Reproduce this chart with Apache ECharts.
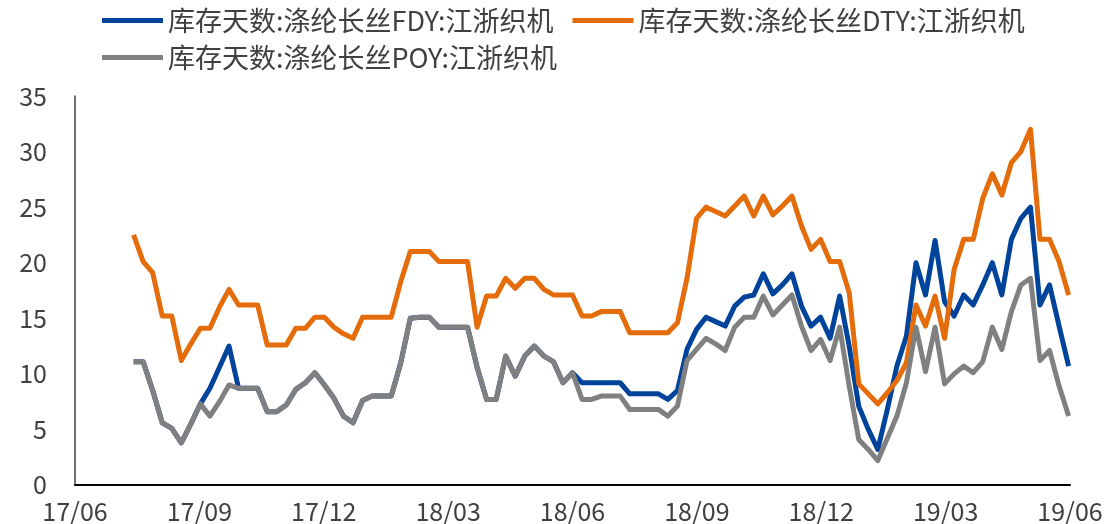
<!DOCTYPE html>
<html>
<head>
<meta charset="utf-8">
<script src="https://cdn.jsdelivr.net/npm/echarts@6/dist/echarts.min.js"></script>
<style>
  html, body { margin: 0; padding: 0; background: #fff; }
  #chart { width: 1112px; height: 524px; }
</style>
</head>
<body>
<div id="chart"></div>
<script>
// 库存天数 江浙织机 周度数据
var startDate = '2017-07-14';   // 第一周
var weekCount = 99;
var xTickLabels = ['17/06', '17/09', '17/12', '18/03', '18/06', '18/09', '18/12', '19/03', '19/06'];

var fdy = [11.1, 11.1, 8.5, 5.6, 5.1, 3.8, 5.5, 7.3, 8.7, 10.6,
           12.5, 8.7, 8.7, 8.7, 6.6, 6.6, 7.2, 8.6, 9.2, 10.1,
           9.0, 7.8, 6.2, 5.6, 7.6, 8.0, 8.0, 8.0, 11.0, 15.0,
           15.1, 15.1, 14.2, 14.2, 14.2, 14.2, 10.6, 7.7, 7.7, 11.6,
           9.8, 11.6, 12.5, 11.6, 11.1, 9.2, 10.1, 9.2, 9.2, 9.2,
           9.2, 9.2, 8.2, 8.2, 8.2, 8.2, 7.7, 8.5, 12.2, 14.0,
           15.1, 14.7, 14.3, 16.1, 16.9, 17.1, 19.0, 17.2, 18.0, 19.0,
           16.1, 14.3, 15.1, 13.2, 17.0, 12.5, 7.1, 5.0, 3.2, 6.8,
           10.7, 13.4, 20.0, 17.1, 22.0, 16.5, 15.2, 17.1, 16.2, 18.0,
           20.0, 17.1, 22.1, 24.0, 25.0, 16.2, 18.0, 14.3, 10.7];

var dty = [22.5, 20.1, 19.1, 15.2, 15.2, 11.2, 12.7, 14.1, 14.1, 16.0,
           17.6, 16.2, 16.2, 16.2, 12.6, 12.6, 12.6, 14.1, 14.1, 15.1,
           15.1, 14.2, 13.6, 13.2, 15.1, 15.1, 15.1, 15.1, 18.3, 21.0,
           21.0, 21.0, 20.1, 20.1, 20.1, 20.1, 14.2, 17.0, 17.0, 18.6,
           17.7, 18.6, 18.6, 17.6, 17.1, 17.1, 17.1, 15.2, 15.2, 15.6,
           15.6, 15.6, 13.7, 13.7, 13.7, 13.7, 13.7, 14.6, 18.6, 24.0,
           25.0, 24.6, 24.2, 25.1, 26.0, 24.2, 26.0, 24.3, 25.1, 26.0,
           23.3, 21.2, 22.1, 20.1, 20.1, 17.3, 9.1, 8.2, 7.3, 8.3,
           9.4, 11.0, 16.2, 14.3, 17.0, 13.2, 19.4, 22.1, 22.1, 25.8,
           28.0, 26.1, 29.0, 30.0, 32.0, 22.1, 22.1, 20.1, 17.1];

var poy = [11.1, 11.1, 8.5, 5.6, 5.1, 3.8, 5.5, 7.3, 6.2, 7.5,
           9.0, 8.7, 8.7, 8.7, 6.6, 6.6, 7.2, 8.6, 9.2, 10.1,
           9.0, 7.8, 6.2, 5.6, 7.6, 8.0, 8.0, 8.0, 11.0, 15.0,
           15.1, 15.1, 14.2, 14.2, 14.2, 14.2, 10.6, 7.7, 7.7, 11.6,
           9.8, 11.6, 12.5, 11.6, 11.1, 9.2, 10.1, 7.7, 7.7, 8.0,
           8.0, 8.0, 6.8, 6.8, 6.8, 6.8, 6.2, 7.1, 11.2, 12.2,
           13.2, 12.7, 12.1, 14.2, 15.1, 15.1, 17.0, 15.3, 16.2, 17.1,
           14.3, 12.1, 13.1, 11.2, 14.2, 8.9, 4.1, 3.2, 2.2, 4.2,
           6.2, 9.2, 14.2, 10.2, 14.2, 9.1, 10.0, 10.7, 10.1, 11.1,
           14.2, 12.2, 15.6, 18.0, 18.6, 11.2, 12.1, 8.9, 6.2];

var names = ['库存天数:涤纶长丝FDY:江浙织机', '库存天数:涤纶长丝DTY:江浙织机', '库存天数:涤纶长丝POY:江浙织机'];
var colors = ['#00439b', '#e46c0a', '#808080'];

// 横轴按天计：2017-06-01 为 0
var DAY = 86400000;
var axisStart = Date.UTC(2017, 5, 1);
var axisDays = 730;
var tickStep = axisDays / 8;

function toPairs(values) {
    var t0 = Date.parse(startDate + 'T00:00:00Z');
    var out = [];
    for (var i = 0; i < weekCount; i++) {
        out.push([(t0 + i * 7 * DAY - axisStart) / DAY, values[i]]);
    }
    return out;
}

var font = '"Noto Sans CJK SC", "Noto Sans", sans-serif';
var myChart = echarts.init(document.getElementById('chart'));

var legendCommon = {
    icon: 'rect',
    itemWidth: 61,
    itemHeight: 5,
    itemGap: 19,
    left: 97,
    textStyle: { fontFamily: font, fontSize: 27, color: '#404040' }
};

var option = {
    animation: false,
    color: colors,
    legend: [
        Object.assign({}, legendCommon, { top: 2, data: [names[0], names[1]] }),
        Object.assign({}, legendCommon, { top: 39, data: [names[2]] })
    ],
    grid: { left: 75, right: 42, top: 96, bottom: 38, containLabel: false },
    xAxis: {
        type: 'value',
        min: 0,
        max: axisDays,
        interval: tickStep,
        splitLine: { show: false },
        axisTick: { show: false },
        axisLine: { lineStyle: { color: '#000', width: 2 } },
        axisLabel: {
            margin: 14,
            fontFamily: font,
            fontSize: 25,
            color: '#404040',
            showMinLabel: true,
            showMaxLabel: true,
            formatter: function (v) { return xTickLabels[Math.round(v / tickStep)]; }
        }
    },
    yAxis: {
        type: 'value',
        min: 0,
        max: 35,
        interval: 5,
        splitLine: { show: false },
        axisTick: { show: false },
        axisLine: { show: true, lineStyle: { color: '#404040', width: 1.5 } },
        axisLabel: { margin: 28, fontFamily: font, fontSize: 25, color: '#404040' }
    },
    series: [0, 1, 2].map(function (k) {
        return {
            name: names[k],
            type: 'line',
            symbol: 'none',
            data: toPairs([fdy, dty, poy][k]),
            lineStyle: { width: 5, color: colors[k], join: 'round' }
        };
    })
};
myChart.setOption(option);
</script>
</body>
</html>
